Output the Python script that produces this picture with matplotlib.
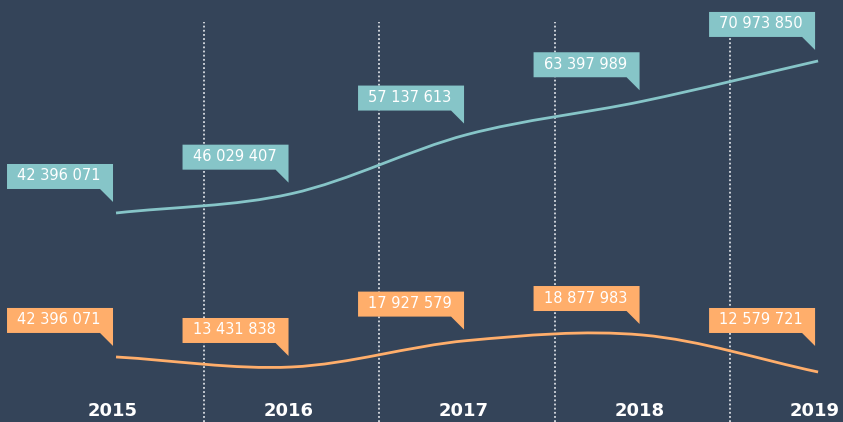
import numpy as np
import matplotlib
matplotlib.use("Agg")
import matplotlib.pyplot as plt
from matplotlib.path import Path
from matplotlib.patches import PathPatch, Polygon
import matplotlib.transforms as mtransforms

years = ["2015", "2016", "2017", "2018", "2019"]
teal_values = [42396071, 46029407, 57137613, 63397989, 70973850]
teal_labels = ["42 396 071", "46 029 407", "57 137 613", "63 397 989", "70 973 850"]
orange_values = [15140000, 13431838, 17927579, 18877983, 12579721]
orange_labels = ["42 396 071", "13 431 838", "17 927 579", "18 877 983", "12 579 721"]

BG = "#344459"
TEAL = "#86c5c8"
ORANGE = "#ffae6b"
DPI = 100

fig = plt.figure(figsize=(8.43, 4.22), dpi=DPI, facecolor=BG)
ax = fig.add_axes([0, 0, 1, 1], facecolor=BG)
ax2 = ax.twinx()
for a in (ax, ax2):
    a.set_axis_off()
    a.set_xlim(-0.661, 4.142)
ax.set_ylim(3.11e6, 82.43e6)
ax2.set_ylim(4.06e6, 75.95e6)

x = np.arange(len(years))

# dotted separators between years
for xm in x[:-1] + 0.5:
    ax.axvline(xm, ymin=0, ymax=(422 - 22) / 422, color="#d8dce2", lw=1.3,
               ls=(0, (1, 1.3)), zorder=1)


def smooth_path(xs, ys):
    pts = np.column_stack([xs, ys]).astype(float)
    ext = np.vstack([2 * pts[0] - pts[1], pts, 2 * pts[-1] - pts[-2]])
    verts = [tuple(pts[0])]
    codes = [Path.MOVETO]
    for i in range(1, len(ext) - 2):
        p0, p1, p2, p3 = ext[i - 1], ext[i], ext[i + 1], ext[i + 2]
        c1 = p1 + (p2 - p0) / 6.0
        c2 = p2 - (p3 - p1) / 6.0
        verts += [tuple(c1), tuple(c2), tuple(p2)]
        codes += [Path.CURVE4] * 3
    return Path(verts, codes)


ax.add_patch(PathPatch(smooth_path(x, teal_values), fill=False, ec=TEAL,
                       lw=2.0, zorder=3, capstyle="butt"))
ax2.add_patch(PathPatch(smooth_path(x, orange_values), fill=False, ec=ORANGE,
                        lw=2.0, zorder=3, capstyle="butt"))


def callout(axis, xv, yv, text, color, extra=0):
    trans = fig.dpi_scale_trans + mtransforms.ScaledTranslation(xv, yv, axis.transData)
    d = extra
    verts = np.array([(-109, 24 + d), (-16, 24 + d), (-3, 11 + d), (-3, 49 + d),
                      (-109, 49 + d)]) / DPI
    axis.add_patch(Polygon(verts, closed=True, fc=color, ec="none",
                           transform=trans, zorder=4, clip_on=False))
    axis.text(-57 / DPI, (37 + d) / DPI, text, transform=trans, color="white",
              fontsize=10.5, ha="center", va="center", zorder=5,
              family="DejaVu Sans")


for i in range(len(years)):
    callout(ax, x[i], teal_values[i], teal_labels[i], TEAL)
    callout(ax2, x[i], orange_values[i], orange_labels[i], ORANGE,
            extra=15 if i == len(years) - 1 else 0)

for i, yr in enumerate(years):
    trans = ax.get_xaxis_transform() + mtransforms.ScaledTranslation(-3 / DPI, 2 / DPI, fig.dpi_scale_trans)
    ax.text(x[i], 0, yr, transform=trans, color="white", fontsize=13,
            fontweight="bold", ha="center", va="bottom", family="DejaVu Sans")

fig.savefig("out.png", dpi=DPI, facecolor=BG)
